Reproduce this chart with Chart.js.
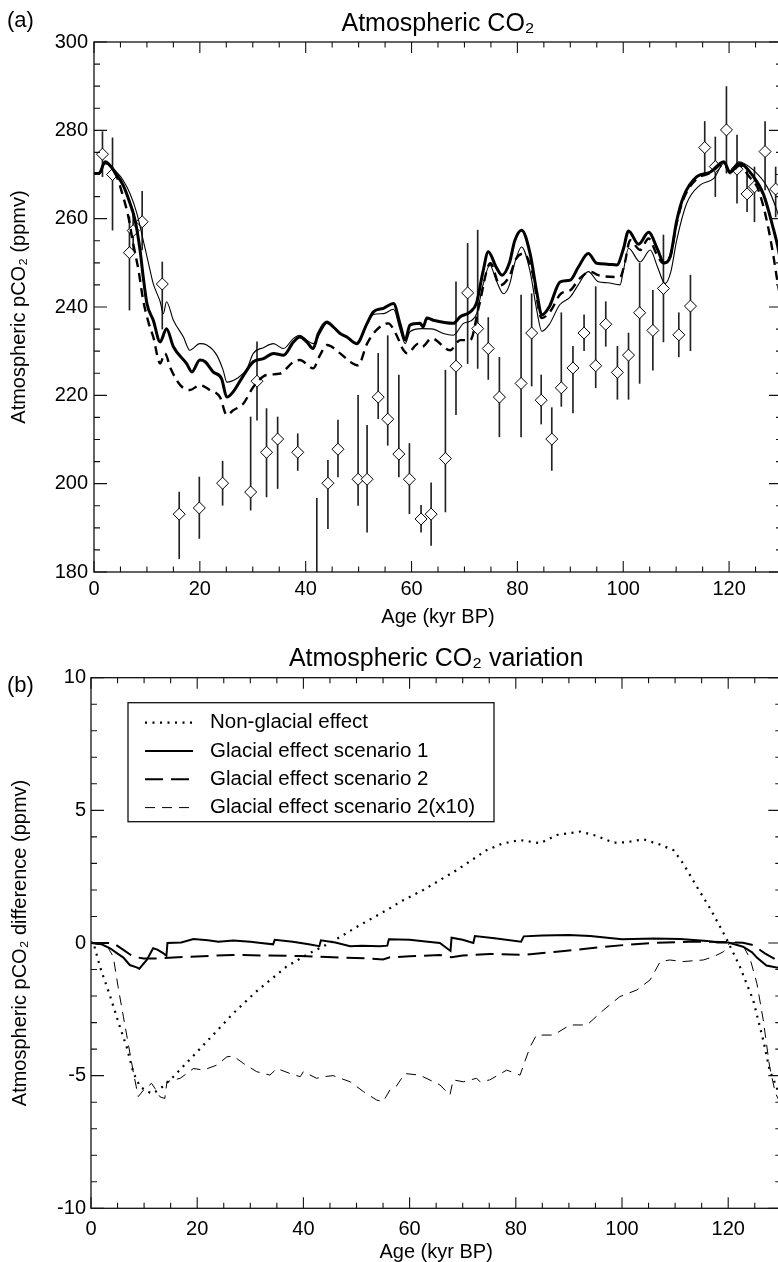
<!DOCTYPE html>
<html>
<head>
<meta charset="utf-8">
<script src="https://cdn.jsdelivr.net/npm/chart.js@4.4.1/dist/chart.umd.min.js"></script>
<style>
  html, body { margin: 0; padding: 0; background: #fff; overflow: hidden; width: 778px; height: 1262px; }
  .panel { position: absolute; left: 0; width: 800px; }
  #panel-a { top: 0; height: 630px; }
  #panel-b { top: 630px; height: 640px; }
</style>
</head>
<body>
<div class="panel" id="panel-a"><canvas id="co2-canvas"></canvas></div>
<div class="panel" id="panel-b"><canvas id="diff-canvas"></canvas></div>
<script>
//-------------------------------
//- PANEL (a) : ATMOSPHERIC CO2 -
//-------------------------------

// thick solid model curve
var thickAge = [0, 1, 2.1, 4.3, 5.5, 6.8, 7.75, 8.7, 9.3, 10, 11.2, 12.5, 13.7, 15, 17.5, 18.5, 20, 21, 22.5, 24.1,
  25.1, 26.3, 28, 30.1, 32, 33.9, 35.8, 37.7, 38.9, 40.2, 41.4, 42.4, 44, 45.2, 46.5, 47.8, 49.6, 51.6, 52.8, 54.7,
  56.6, 57.8, 58.8, 59.7, 61.6, 62.2, 62.9, 64.1, 67.9, 69.2, 71.1, 72.3, 73.5, 74.5, 76, 77.1, 78.5, 79.5, 80.8, 82.4,
  83.7, 84.6, 86, 88.1, 90, 91.5, 93.4, 95, 97, 98.8, 100, 101, 102.9, 104.8, 106.5, 107.7, 108.9, 110.1, 111.4, 113.9,
  116.4, 119, 120.2, 122, 124.3, 126.5, 128.2, 129.4, 130];
var thickCo2 = [270.2, 270.3, 272.9, 269.9, 267.6, 263.5, 259.7, 252.9, 246.8, 240.8, 237, 232.1, 235.1, 231, 227.2, 225.3, 228, 227.6, 225.3, 223.8,
  219.6, 220.8, 224, 227.6, 228.3, 229.5, 229.1, 232.1, 233.2, 232.1, 230.6, 234, 236.6, 235.5, 234, 233.2, 231.7, 236.3, 238.9, 239.7,
  240.8, 236.3, 232.5, 235.9, 236.3, 235.5, 237.5, 237, 236.3, 237.8, 238.9, 241, 248, 252.5, 249, 247.2, 250, 255, 257.4, 252.1,
  243.1, 238.2, 240, 245.7, 246.1, 249, 252.1, 249.9, 249.7, 249.5, 253, 257.2, 254.2, 256.9, 253, 250, 251.5, 259.5, 265, 269.5,
  270.5, 272.9, 270.5, 272.5, 270, 265.5, 258.5, 252.5, 248];

// thin solid model curve
var thinAge = [0, 1, 2.1, 3, 4.3, 5.5, 6.8, 8.1, 9.3, 10.3, 11.2, 12.5, 13.1, 13.7, 15, 16.9, 18.1, 20, 21.3, 23.2,
  24.4, 25.1, 27, 28.9, 30.1, 32, 33.9, 35.8, 37.7, 38.9, 40.2, 41.4, 42.7, 44, 45.2, 46.5, 47.8, 49.6, 51.6, 52.8,
  54.7, 56.6, 57.8, 58.8, 59.7, 61.9, 64.1, 66, 67.9, 69.8, 71.1, 72.3, 73.5, 74.8, 76, 77.4, 78.5, 79.5, 80.8, 82.4,
  83.7, 84.6, 86, 88, 90, 91.5, 93.4, 95.3, 97, 99.4, 100, 101, 103.2, 105.1, 106.5, 107.9, 109, 110.1, 112, 114.5,
  117.1, 119, 120.2, 121.8, 124.6, 127.2, 129, 130];
var thinCo2 = [270.2, 270.4, 272.9, 272.1, 270.5, 268.7, 265.7, 261.2, 255.1, 249.9, 245.3, 241.2, 238.5, 241.2, 237, 233.2, 230.2, 231.7, 231.4, 229.1,
  225.7, 223, 223.8, 226, 229.5, 230.8, 231.7, 230.6, 232.9, 233.6, 232.5, 231.7, 234, 236.3, 235.5, 234, 233.2, 231.7, 236, 238.3,
  238.5, 239.5, 235, 231.7, 234.4, 235.1, 235, 234, 233.6, 236.3, 236.8, 238.5, 245, 249.5, 246, 243, 245, 250, 253.6, 248,
  239, 234.5, 236, 240.5, 242.3, 245, 248, 245.7, 245.5, 245, 248, 253.3, 250.2, 252.9, 249, 245.3, 248, 255.1, 263.5, 267.6,
  269.1, 272.5, 270.8, 272.9, 271, 267.2, 262, 258];

// thick dashed model curve
var dashAge = [0, 1, 2.1, 4.3, 5.5, 6.5, 7.4, 8.4, 9.3, 10.3, 11.2, 12.5, 13.4, 14.5, 16.3, 18.1, 20, 21.9, 23.8, 25.1,
  26.3, 28.2, 30.1, 32.6, 35.1, 37.7, 38.9, 41.4, 42.7, 44, 46.5, 48.4, 49.9, 51.6, 53.4, 55.6, 57, 58.5, 59.2, 61.3,
  62, 63.8, 67.3, 69.2, 71.1, 72.7, 74.9, 76.7, 78.5, 79.8, 81.2, 82.8, 84.6, 86.2, 88.2, 90, 91.8, 93.8, 95.3, 99.4,
  100.3, 101.3, 103.2, 104.8, 106.3, 107.6, 108.9, 110.1, 111.4, 113.9, 116.4, 119, 120.2, 122, 123.8, 125.3, 126.5, 127.5, 128.4, 129,
  130];
var dashCo2 = [270.2, 270.3, 272.6, 269.5, 265, 260.4, 254.4, 248.4, 241.5, 236.5, 233.2, 227.2, 229.5, 226, 222.3, 221.2, 222.3, 221.2, 219.6, 215.5,
  216.6, 218.1, 221.9, 224.6, 224.9, 227.6, 228, 226.1, 229.1, 231.4, 229.5, 227.6, 226.8, 231.7, 234.8, 236.3, 234, 230.2, 229.5, 231.7,
  231, 232.9, 230.2, 232.5, 232.5, 240, 249.9, 244.9, 247, 251, 252.1, 248, 237.5, 239, 243, 243.8, 246.5, 248, 247.2, 246.8,
  250, 255.1, 252.9, 255.5, 252, 249.9, 251.5, 259, 264.5, 269, 270.3, 272.5, 270.3, 272, 269.5, 267.2, 262.7, 257.4, 251.4, 246.8,
  240];

// ice core measurements with error range
var obsAge = [1.6, 3.5, 6.7, 7.4, 9.1, 12.9, 16.1, 19.9, 24.3, 29.6, 30.8, 32.6, 34.7, 38.5, 42.1, 44.2, 46.1, 49.9, 51.6, 53.7,
  55.5, 57.6, 59.6, 61.8, 63.7, 66.4, 68.4, 70.6, 72.5, 74.5, 76.6, 80.7, 82.7, 84.5, 86.5, 88.3, 90.5, 92.6, 94.8, 96.7,
  98.9, 101, 103.1, 105.6, 107.6, 110.5, 112.7, 115.4, 117.4, 119.5, 121.5, 123.4, 124.8, 126.8, 128.8];
var obsCo2 = [274.6, 270, 252.3, 257.3, 259.3, 245.2, 193.1, 194.5, 200.1, 198.1, 223.2, 207.1, 210.1, 207.1, 176, 200.1, 207.8, 201, 201, 219.6,
  214.6, 206.7, 201, 192, 193.1, 205.7, 226.6, 243.2, 235.1, 230.6, 219.6, 222.7, 234.1, 218.9, 210.1, 221.7, 226.2, 234.1, 226.7, 236.1,
  225.2, 229.1, 238.7, 234.7, 244.2, 233.7, 240.2, 276.1, 271.8, 280.1, 271.2, 265.6, 267.2, 275.2, 266.7];
var obsLow = [269.5, 257.4, 239.3, 252, 252.9, 235, 183, 187.6, 195.1, 194, 214.4, 197, 198.9, 203, 160, 189.8, 201.5, 195.1, 189, 214.7,
  208.7, 201.5, 193.2, 189, 186, 193.6, 215.6, 227.2, 226.1, 223.6, 210.6, 210.6, 222.1, 213.5, 203, 217.5, 216, 230.1, 221.7, 231.1,
  219.1, 219.1, 222.7, 225.7, 232.1, 228.7, 230.1, 270.3, 265, 270.3, 263.5, 261.6, 259.3, 266.5, 260.4];
var obsHigh = [279.7, 278.3, 260.4, 262, 266.2, 250.2, 198.1, 201.5, 205.1, 215.1, 232.1, 217, 215.1, 211.3, 196.7, 205.3, 214.4, 220, 213.2, 229.5,
  233.5, 224.6, 209.1, 195.1, 200.2, 225.7, 245.7, 254.4, 257.4, 237.6, 228.6, 242.7, 243, 224.6, 217.2, 238.7, 231.1, 238.2, 244.6, 241.2,
  231.1, 234.1, 249.9, 243.8, 256.3, 238.7, 247.2, 282, 278.5, 289.9, 278.9, 271.7, 271.7, 282, 271.7];

//-----------------------------------------
//- PANEL (b) : ATMOSPHERIC CO2 VARIATION -
//-----------------------------------------

var nonGlacialAge = [0, 0.4, 1.7, 3.6, 5.5, 6.7, 8, 9.2, 10.5, 11.7, 13.6, 15.5, 20, 26.8, 31, 36.8, 41, 45, 50, 56.3,
  58.2, 62.6, 68.9, 74.5, 77.5, 80.8, 84.6, 87.7, 92.1, 95, 98.4, 101, 104, 107, 109.7, 111.5, 114.1, 116.6, 118.5, 119.7,
  122.2, 124.7, 126.6, 127.8, 129.1, 130];
var nonGlacialDiff = [0, 0.05, -0.9, -2, -3.2, -3.9, -4.9, -5.4, -5.6, -5.67, -5.4, -5.04, -4.1, -2.65, -1.85, -0.89, -0.4, 0, 0.6, 1.31,
  1.55, 2.0, 2.75, 3.5, 3.75, 3.88, 3.76, 4.07, 4.2, 4.05, 3.78, 3.8, 3.91, 3.72, 3.5, 3.0, 2.12, 1.3, 0.6, 0.15,
  -0.89, -2.15, -3.66, -4.79, -5.42, -6];

var scen1Age = [0, 2, 3.6, 5, 6.1, 7.3, 8.6, 9.1, 10.5, 11.7, 12.5, 13.5, 14.2, 14.4, 17, 19.3, 22, 24, 26.8, 30,
  32, 34.3, 34.6, 38, 41, 43, 43.3, 46, 48.8, 51, 54.4, 55.8, 56.1, 60, 63, 65.7, 67.7, 67.9, 70, 72,
  72.3, 76, 81, 81.5, 85, 90, 94, 100, 106, 111, 116, 118, 120, 122.8, 124.5, 125.4, 127.2, 129.1, 130];
var scen1Diff = [0, -0.05, -0.2, -0.4, -0.55, -0.83, -0.92, -0.97, -0.64, -0.2, -0.25, -0.37, -0.48, 0, 0.02, 0.15, 0.1, 0.05, 0.09, 0.05,
  0, -0.05, 0.12, 0.05, -0.05, -0.12, 0.1, 0.02, -0.12, -0.1, -0.12, -0.1, 0.14, 0.12, 0.06, 0, -0.3, 0.2, 0.12, 0,
  0.26, 0.18, 0.05, 0.25, 0.28, 0.3, 0.26, 0.14, 0.17, 0.15, 0.08, 0.02, 0.02, -0.14, -0.35, -0.55, -0.85, -0.92, -0.95];

var scen2Age = [0, 4.2, 6.1, 8, 9.9, 13, 18, 26.8, 33, 39.4, 45.6, 51.9, 55, 56.3, 60, 65.7, 67.9, 70, 75.1, 81.4,
  87.7, 94, 100.2, 106.5, 112.7, 117, 122.8, 124.7, 126.9, 129.1, 130];
var scen2Diff = [0, 0, -0.26, -0.52, -0.58, -0.58, -0.52, -0.45, -0.47, -0.49, -0.54, -0.58, -0.62, -0.54, -0.5, -0.45, -0.54, -0.47, -0.41, -0.45,
  -0.33, -0.2, -0.08, 0.01, 0.05, 0.05, 0.01, -0.08, -0.39, -0.64, -0.7];

var scen2x10Age = [0, 3, 4.2, 5.1, 6.1, 7, 8, 8.9, 9.9, 11.4, 12.1, 13, 13.9, 14.3, 16.8, 19.3, 21.2, 23.7, 25.6, 26.8,
  28.7, 31.2, 33.7, 35, 37.5, 39.4, 40, 42.5, 43.7, 45.6, 48.8, 51.3, 53.8, 55, 56.3, 57.5, 59.1, 61.9, 64.5, 65.7,
  67.6, 68.2, 70.1, 72.6, 73.3, 75.1, 78.3, 80.8, 82.7, 83.9, 87.1, 90.2, 93.4, 96.5, 99.6, 102.8, 105.3, 107.2, 109, 111.5,
  115.3, 117.2, 119.1, 120.3, 121.5, 122.8, 124.1, 125.4, 126.6, 127.8, 128.9, 130];
var scen2x10Diff = [0, -0.1, -0.52, -1.65, -2.78, -3.78, -4.9, -5.79, -5.54, -5.29, -5.5, -5.8, -5.86, -5.23, -5.1, -4.73, -4.79, -4.6, -4.29, -4.26,
  -4.54, -4.85, -4.98, -4.73, -4.92, -5.04, -4.85, -5.1, -5.04, -5.0, -5.23, -5.6, -5.92, -5.98, -5.54, -5.4, -4.92, -4.98, -5.23, -5.35,
  -5.73, -5.16, -5.23, -5.1, -5.23, -5.16, -4.79, -4.98, -3.91, -3.47, -3.47, -3.09, -3.09, -2.53, -2.02, -1.77, -1.39, -0.7, -0.64, -0.7,
  -0.64, -0.52, -0.33, 0.0, 0.02, -0.1, -0.58, -1.52, -2.9, -4.66, -5.67, -6.1];

var legendLabels = ["Non-glacial effect", "Glacial effect scenario 1", "Glacial effect scenario 2", "Glacial effect scenario 2(x10)"];

// ----------------------------------------------------------------
var FONT = "'Liberation Sans', Arial, Helvetica, sans-serif";
Chart.defaults.font.family = FONT;
Chart.defaults.color = "#000";

function xy(xs, ys) {
  var out = [];
  for (var i = 0; i < Math.min(xs.length, ys.length); i++) out.push({ x: xs[i], y: ys[i] });
  return out;
}

// box round the plot with inward major / minor ticks on all four sides
function axisFrame(xMajor, xMinor, yMajor, yMinor) {
  return {
    id: "axisFrame",
    afterDatasetsDraw: function (chart) {
      var ctx = chart.ctx, a = chart.chartArea, sx = chart.scales.x, sy = chart.scales.y;
      ctx.save();
      ctx.strokeStyle = "#111";
      ctx.lineWidth = 1.3;
      ctx.strokeRect(a.left, a.top, a.right - a.left, a.bottom - a.top);
      ctx.lineWidth = 1.1;
      ctx.beginPath();
      var n = Math.round((sx.max - sx.min) / xMinor), i, v, p, len;
      for (i = 0; i <= n; i++) {
        v = sx.min + i * xMinor;
        p = sx.getPixelForValue(v);
        len = Math.abs(v % xMajor) < 1e-6 ? 11 : 5.5;
        ctx.moveTo(p, a.bottom); ctx.lineTo(p, a.bottom - len);
        ctx.moveTo(p, a.top); ctx.lineTo(p, a.top + len);
      }
      n = Math.round((sy.max - sy.min) / yMinor);
      for (i = 0; i <= n; i++) {
        v = sy.min + i * yMinor;
        p = sy.getPixelForValue(v);
        len = Math.abs(v % yMajor) < 1e-6 ? 13 : 6;
        ctx.moveTo(a.left, p); ctx.lineTo(a.left + len, p);
        ctx.moveTo(a.right, p); ctx.lineTo(a.right - len, p);
      }
      ctx.stroke();
      ctx.restore();
    }
  };
}

function panelTitles(letter, letterY, text, textY) {
  return {
    id: "panelTitles",
    afterDraw: function (chart) {
      var ctx = chart.ctx, a = chart.chartArea;
      ctx.save();
      ctx.fillStyle = "#000";
      ctx.textBaseline = "middle";
      ctx.textAlign = "center";
      ctx.font = "25px " + FONT;
      ctx.fillText(text, (a.left + a.right) / 2, textY);
      ctx.textAlign = "left";
      ctx.font = "22px " + FONT;
      ctx.fillText(letter, 7, letterY);
      ctx.restore();
    }
  };
}

function axisOptions(opt) {
  return {
    type: "linear",
    min: opt.min,
    max: opt.max,
    offset: false,
    beginAtZero: false,
    border: { display: false },
    grid: { display: false, drawTicks: false, offset: false },
    ticks: {
      stepSize: opt.step,
      includeBounds: false,
      autoSkip: false,
      maxRotation: 0,
      padding: opt.pad,
      color: "#000",
      font: { size: 20 }
    },
    title: {
      display: true,
      text: opt.title,
      color: "#000",
      font: { size: 20, lineHeight: 1.2 },
      padding: opt.titlePad
    },
    afterFit: opt.fit
  };
}

// Panel (a)
var co2Canvas = document.getElementById("co2-canvas");

var obsBars = [];
for (var k = 0; k < obsAge.length; k++) obsBars.push({ x: obsAge[k], y: [obsLow[k], obsHigh[k]] });

var co2Chart = new Chart(co2Canvas, {
  type: "line",
  data: {
    datasets: [
      {
        label: "model thick",
        data: xy(thickAge, thickCo2),
        borderColor: "#000",
        borderWidth: 3,
        pointRadius: 0,
        fill: false,
        cubicInterpolationMode: "monotone",
        order: 0
      },
      {
        label: "model thin",
        data: xy(thinAge, thinCo2),
        borderColor: "#000",
        borderWidth: 1.1,
        pointRadius: 0,
        fill: false,
        cubicInterpolationMode: "monotone",
        order: 0
      },
      {
        label: "model dashed",
        data: xy(dashAge, dashCo2),
        borderColor: "#000",
        borderWidth: 2.4,
        borderDash: [9, 6],
        pointRadius: 0,
        fill: false,
        cubicInterpolationMode: "monotone",
        order: 0
      },
      {
        label: "ice core",
        data: xy(obsAge, obsCo2),
        showLine: false,
        pointStyle: "rectRot",
        pointRadius: 6,
        pointBorderWidth: 1,
        pointBorderColor: "#000",
        pointBackgroundColor: "#fff",
        order: 1
      },
      {
        type: "bar",
        label: "range",
        data: obsBars,
        barThickness: 1,
        backgroundColor: "#222",
        borderWidth: 0,
        order: 2
      }
    ]
  },
  options: {
    responsive: true,
    maintainAspectRatio: false,
    animation: false,
    events: [],
    layout: { padding: { top: 42, right: 18, bottom: 0, left: 0 } },
    plugins: { legend: { display: false }, tooltip: { enabled: false } },
    scales: {
      x: axisOptions({ min: 0, max: 130, step: 20, pad: 5, title: "Age (kyr BP)", titlePad: { top: 0, bottom: 1 },
        fit: function (s) { s.height = 58; } }),
      y: axisOptions({ min: 180, max: 300, step: 20, pad: 6, title: "Atmospheric pCO\u2082 (ppmv)", titlePad: { top: 7, bottom: 0 },
        fit: function (s) { s.width = 94; } })
    }
  },
  plugins: [axisFrame(20, 5, 20, 5), panelTitles("(a)", 21, "Atmospheric CO\u2082", 24)]
});

// Panel (b)
var diffCanvas = document.getElementById("diff-canvas");

var legendBox = {
  id: "legendBox",
  afterDraw: function (chart) {
    var ctx = chart.ctx, a = chart.chartArea;
    var left = a.left + 37, top = a.top + 25, w = 366, h = 119;
    ctx.save();
    ctx.fillStyle = "#fff";
    ctx.fillRect(left, top, w, h);
    ctx.strokeStyle = "#111";
    ctx.lineWidth = 1.3;
    ctx.strokeRect(left, top, w, h);
    ctx.font = "20.5px " + FONT;
    ctx.textBaseline = "middle";
    ctx.textAlign = "left";
    chart.data.datasets.forEach(function (ds, i) {
      var y = top + 20 + i * 28.3;
      ctx.beginPath();
      ctx.setLineDash(ds.borderDash || []);
      ctx.lineWidth = ds.borderWidth;
      ctx.strokeStyle = "#000";
      ctx.moveTo(left + 17, y);
      ctx.lineTo(left + 65, y);
      ctx.stroke();
      ctx.setLineDash([]);
      ctx.fillStyle = "#000";
      ctx.fillText(ds.label, left + 82, y);
    });
    ctx.restore();
  }
};

var diffChart = new Chart(diffCanvas, {
  type: "line",
  data: {
    datasets: [
      {
        label: legendLabels[0],
        data: xy(nonGlacialAge, nonGlacialDiff),
        borderColor: "#000",
        borderWidth: 2.2,
        borderDash: [2, 5.5],
        pointRadius: 0,
        fill: false
      },
      {
        label: legendLabels[1],
        data: xy(scen1Age, scen1Diff),
        borderColor: "#000",
        borderWidth: 2,
        pointRadius: 0,
        fill: false
      },
      {
        label: legendLabels[2],
        data: xy(scen2Age, scen2Diff),
        borderColor: "#000",
        borderWidth: 2,
        borderDash: [18, 8],
        pointRadius: 0,
        fill: false
      },
      {
        label: legendLabels[3],
        data: xy(scen2x10Age, scen2x10Diff),
        borderColor: "#000",
        borderWidth: 1,
        borderDash: [10, 7],
        pointRadius: 0,
        fill: false
      }
    ]
  },
  options: {
    responsive: true,
    maintainAspectRatio: false,
    animation: false,
    events: [],
    layout: { padding: { top: 47.7, right: 18.7, bottom: 0, left: 0 } },
    plugins: { legend: { display: false }, tooltip: { enabled: false } },
    scales: {
      x: axisOptions({ min: 0, max: 130, step: 20, pad: 9, title: "Age (kyr BP)", titlePad: { top: 0, bottom: 6 },
        fit: function (s) { s.height = 61.7; } }),
      y: axisOptions({ min: -10, max: 10, step: 5, pad: 5, title: "Atmospheric pCO\u2082 difference (ppmv)", titlePad: { top: 8.5, bottom: 0 },
        fit: function (s) { s.width = 91; } })
    }
  },
  plugins: [axisFrame(20, 5, 5, 1), legendBox, panelTitles("(b)", 56, "Atmospheric CO\u2082 variation", 29)]
});
</script>
</body>
</html>
